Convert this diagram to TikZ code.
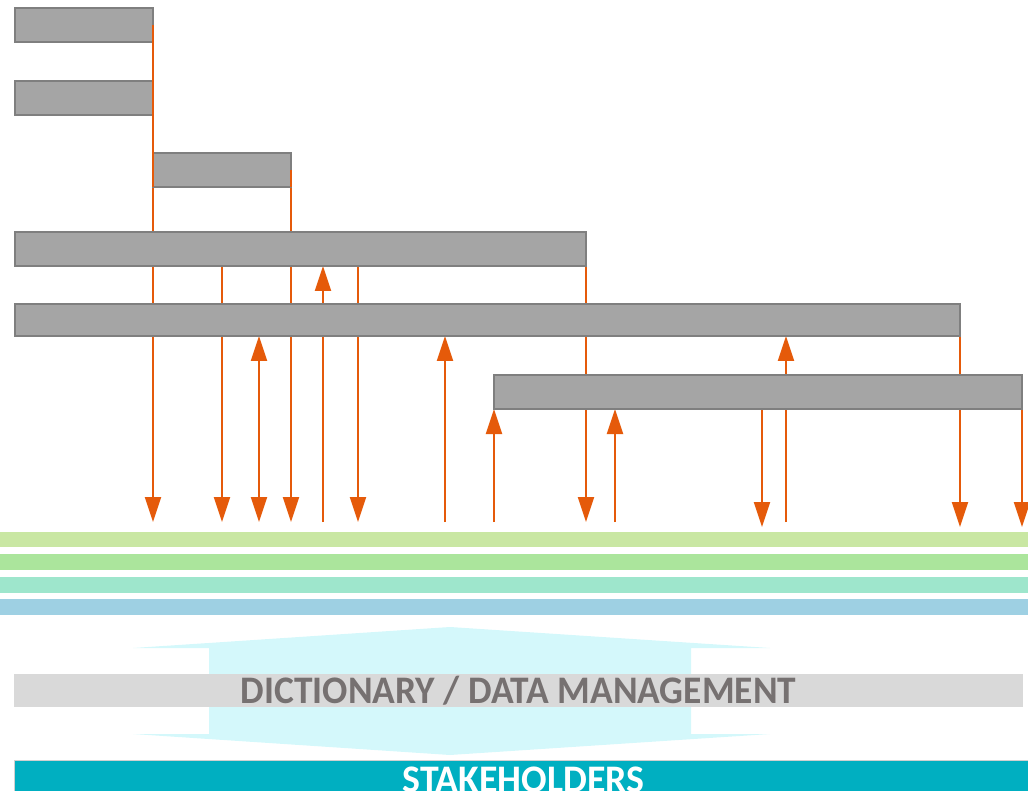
\documentclass[tikz,border=0pt]{standalone}
\usepackage{fontspec}
\newfontfamily\calfont{Carlito}
\usetikzlibrary{arrows.meta,positioning,calc}
\definecolor{blkfill}{HTML}{A5A5A5}
\definecolor{blkline}{HTML}{7F7F7F}
\definecolor{wirecol}{HTML}{E55A0A}
\definecolor{busonecol}{HTML}{C9E7A3}
\definecolor{bustwocol}{HTML}{ABE59C}
\definecolor{busthreecol}{HTML}{9EE6CC}
\definecolor{busfourcol}{HTML}{9ED0E3}
\definecolor{flowcol}{HTML}{D4F8FB}
\definecolor{dmcol}{HTML}{D9D9D9}
\definecolor{dmtext}{HTML}{767171}
\definecolor{shcol}{HTML}{00AFC1}
\definecolor{shline}{HTML}{D0D0D0}
\pgfdeclarelayer{back}
\pgfsetlayers{back,main}

\begin{document}
\begin{tikzpicture}
    [ x=1pt, y=-1pt
    , blk/.style={draw=blkline, fill=blkfill, line width=2pt, inner sep=0pt, outer sep=0pt, minimum height=34pt, anchor=north west}
    , bus/.style={fill=#1, inner sep=0pt, outer sep=0pt, minimum width=1028pt, anchor=north west}
    , wire/.style={draw=wirecol, line width=2pt}
    , arr/.style={wire, -{Triangle[length=25pt,width=16pt]}}
    , bothway/.style={wire, {Triangle[length=25pt,width=16pt]}-{Triangle[length=25pt,width=16pt]}}
    , bartext/.style={font=\calfont\bfseries\fontsize{39}{39}\selectfont, text height=25pt, text depth=0pt}
    ]
  \useasboundingbox (0,0) rectangle (1028,791);
  \node[blk, minimum width=138pt] (r1) at (15,8) {};
  \node[blk, minimum width=138pt] (r2) at (15,81) {};
  \node[blk, minimum width=138pt] (r3) at (153,153) {};
  \node[blk, minimum width=571pt] (r4) at (15,232) {};
  \node[blk, minimum width=945pt, minimum height=32pt] (r5) at (15,304) {};
  \node[blk, minimum width=528pt] (r6) at (494,375) {};
  \node[bus=busonecol, minimum height=15pt] (bus1) at (0,532) {};
  \node[bus=bustwocol, minimum height=16pt] (bus2) at (0,554) {};
  \node[bus=busthreecol, minimum height=16pt] (bus3) at (0,577) {};
  \node[bus=busfourcol, minimum height=16pt] (bus4) at (0,599) {};
  \coordinate (tip) at (0,522);
  \coordinate (tiplow) at (0,527);
  \begin{pgfonlayer}{back}
    \draw[arr] (r3.south west) -- (r3.south west |- tip);
    \draw[arr] (222,0 |- r4.south) -- (222,0 |- tip);
    \draw[bothway] (259,0 |- r5.south) -- (259,0 |- tip);
    \draw[arr] (r3.south east) -- (r3.south east |- tip);
    \draw[arr] (323,0 |- tip) -- (323,0 |- r4.south);
    \draw[arr] (358,0 |- r4.south) -- (358,0 |- tip);
    \draw[arr] (445,0 |- tip) -- (445,0 |- r5.south);
    \draw[arr] (r6.south west |- tip) -- (r6.south west);
    \draw[arr] (r4.south east) -- (r4.south east |- tip);
    \draw[arr] (615,0 |- tip) -- (615,0 |- r6.south);
    \draw[arr] (762,0 |- r6.south) -- (762,0 |- tiplow);
    \draw[arr] (786,0 |- tip) -- (786,0 |- r5.south);
    \draw[arr] (r5.south east) -- (r5.south east |- tiplow);
    \draw[arr] (r6.south east) -- (r6.south east |- tiplow);
  \end{pgfonlayer}
  \draw[wire] (r1.east) -- (r3.south west);
  \draw[wire] (r3.east) -- (r3.south east);
  \fill[flowcol] (450,627) -- (770,648) -- (691,648) -- (691,734) -- (770,734)
    -- (450,755) -- (133,734) -- (209,734) -- (209,648) -- (133,648) -- cycle;
  \node[bartext, fill=dmcol, text=dmtext, minimum width=1009pt, minimum height=33pt, inner sep=0pt, outer sep=0pt, anchor=north west] (dm) at (14,674) {\scalebox{0.96}[1]{DICTIONARY / DATA MANAGEMENT}};
  \node[bartext, fill=shcol, draw=shline, line width=1pt, text=white, minimum width=1018pt, inner xsep=0pt, inner ysep=7pt, outer sep=0pt, anchor=north west] (sh) at (14.5,760.5) {\scalebox{0.97}[1]{STAKEHOLDERS}};
\end{tikzpicture}
\end{document}
